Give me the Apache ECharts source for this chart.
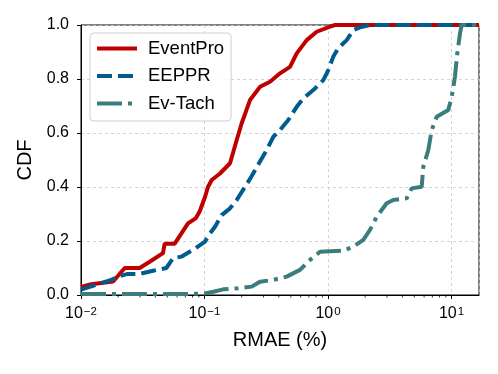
<!DOCTYPE html>
<html>
<head>
<meta charset="utf-8">
<script src="https://cdn.jsdelivr.net/npm/echarts@6/dist/echarts.min.js"></script>
<style>
    html, body { margin: 0; padding: 0; background: #fff; }
    #chart { width: 498px; height: 374px; }
</style>
</head>
<body>
<div id="chart"></div>
<script>
'use strict';

const xMin = 0.01;
const xMax = 16.7;
const yTicks = [0, 0.2, 0.4, 0.6, 0.8, 1.0];
const seriesNames = ['EventPro', 'EEPPR', 'Ev-Tach'];

const eventPro = [
    [0.01, 0.03], [0.0121, 0.04], [0.0182, 0.05], [0.0226, 0.10], [0.0299, 0.10],
    [0.036, 0.123], [0.0461, 0.155], [0.0476, 0.19], [0.0574, 0.19], [0.0735, 0.265],
    [0.0853, 0.285], [0.0915, 0.31], [0.1004, 0.36], [0.1067, 0.40], [0.1144, 0.426],
    [0.1335, 0.45], [0.1609, 0.488], [0.1823, 0.574], [0.2001, 0.636], [0.2336, 0.722],
    [0.2814, 0.771], [0.3393, 0.79], [0.4087, 0.821], [0.4925, 0.845], [0.558, 0.895],
    [0.6723, 0.944], [0.81, 0.975], [1.038, 0.994], [1.14, 1.0], [16.7, 1.0]
];

const eeppr = [
    [0.01, 0.02], [0.0176, 0.056], [0.0199, 0.068], [0.024, 0.078], [0.0299, 0.078],
    [0.0383, 0.09], [0.0491, 0.10], [0.0556, 0.136], [0.0649, 0.142], [0.0807, 0.167],
    [0.1004, 0.197], [0.1108, 0.228], [0.1216, 0.253], [0.1378, 0.296], [0.1609, 0.321],
    [0.1823, 0.352], [0.2336, 0.43], [0.2814, 0.494], [0.3189, 0.537], [0.3607, 0.586],
    [0.4087, 0.611], [0.477, 0.648], [0.558, 0.697], [0.631, 0.728], [0.7603, 0.759],
    [0.9163, 0.796], [1.0056, 0.833], [1.104, 0.883], [1.2117, 0.914], [1.417, 0.944],
    [1.602, 0.981], [1.816, 0.991], [2.188, 1.0], [16.7, 1.0]
];

const evTach = [
    [0.01, 0.004], [0.0763, 0.004], [0.1009, 0.006], [0.1179, 0.012], [0.142, 0.021],
    [0.1878, 0.025], [0.2411, 0.031], [0.2814, 0.049], [0.3607, 0.056], [0.4629, 0.068],
    [0.5932, 0.093], [0.7149, 0.13], [0.8616, 0.16], [1.33, 0.164], [1.602, 0.179],
    [1.931, 0.204], [2.188, 0.241], [2.48, 0.29], [2.988, 0.34], [3.38, 0.352],
    [4.337, 0.358], [4.76, 0.395], [5.737, 0.401], [5.911, 0.475], [6.49, 0.537],
    [6.914, 0.611], [7.59, 0.66], [9.42, 0.685], [10.04, 0.734], [10.67, 0.809],
    [11.14, 0.895], [11.72, 0.969], [12.09, 1.0], [16.7, 1.0]
];

const font = 'Liberation Sans';

// minor ticks of the log axis at 2..9 of each decade
const minorTicks = [];
[0.01, 0.1, 1, 10].forEach(function (d) {
    for (let k = 2; k <= 9; k++) {
        if (k * d < xMax) minorTicks.push([k * d, 0]);
    }
});

function supLabel(v) {
    const e = Math.round(Math.log10(v));
    return '{b|10}{s|' + (e < 0 ? '\u2212' + (-e) : e) + '}';
}

const chart = echarts.init(document.getElementById('chart'), null, {renderer: 'canvas'});

chart.setOption({
    animation: false,
    backgroundColor: '#fff',
    textStyle: {fontFamily: font},
    grid: {
        left: 81, right: 19, top: 25, bottom: 79,
        show: true, borderColor: '#000', borderWidth: 1
    },
    legend: {
        data: seriesNames,
        orient: 'vertical',
        left: 90, top: 33,
        itemWidth: 40, itemHeight: 17, itemGap: 8.5,
        padding: [6, 7, 8, 5],
        borderColor: '#cfcfcf', borderWidth: 1, borderRadius: 4,
        backgroundColor: 'rgba(255,255,255,0.8)',
        itemStyle: {opacity: 0},
        lineStyle: {width: 4},
        textStyle: {fontFamily: font, fontSize: 18.5, color: '#000', padding: [0, 0, 0, 6]}
    },
    xAxis: {
        type: 'log',
        logBase: 10,
        min: xMin,
        max: xMax,
        name: 'RMAE (%)',
        nameLocation: 'middle',
        nameGap: 35,
        nameTextStyle: {fontFamily: font, fontSize: 20, color: '#000'},
        axisLine: {lineStyle: {color: '#000', width: 1}},
        axisTick: {length: 4, lineStyle: {color: '#000', width: 1}},
        axisLabel: {
            margin: 11,
            showMaxLabel: false,
            formatter: supLabel,
            rich: {
                b: {fontFamily: font, fontSize: 16, color: '#000', verticalAlign: 'bottom'},
                s: {fontFamily: font, fontSize: 11.5, color: '#000', verticalAlign: 'top', padding: [0, 0, 0, 1]}
            }
        },
        splitLine: {show: true, lineStyle: {color: '#c8c8c8', width: 0.8, type: [3, 3]}}
    },
    yAxis: {
        type: 'value',
        min: yTicks[0],
        max: yTicks[yTicks.length - 1],
        interval: 0.2,
        name: 'CDF',
        nameLocation: 'middle',
        nameGap: 45,
        nameTextStyle: {fontFamily: font, fontSize: 20, color: '#000'},
        axisLine: {show: true, lineStyle: {color: '#000', width: 1}},
        axisTick: {show: true, length: 4, lineStyle: {color: '#000', width: 1}},
        axisLabel: {
            margin: 12,
            fontFamily: font, fontSize: 16, color: '#000',
            formatter: function (v) { return v.toFixed(1); }
        },
        splitLine: {show: true, lineStyle: {color: '#c8c8c8', width: 0.8, type: [3, 3]}}
    },
    series: [
        {
            name: seriesNames[0], type: 'line', data: eventPro,
            showSymbol: false, symbol: 'none', color: '#c00000',
            lineStyle: {width: 4, color: '#c00000', type: 'solid'}
        },
        {
            name: seriesNames[1], type: 'line', data: eeppr,
            showSymbol: false, symbol: 'none', color: '#005b8e',
            lineStyle: {width: 4, color: '#005b8e', type: [15, 6]}
        },
        {
            name: seriesNames[2], type: 'line', data: evTach,
            showSymbol: false, symbol: 'none', color: '#3b7d7d',
            lineStyle: {width: 4, color: '#3b7d7d', type: [25, 6, 4, 6]}
        },
        {
            type: 'custom', data: minorTicks, silent: true, clip: false,
            renderItem: function (params, api) {
                const p = api.coord([api.value(0), 0]);
                return {
                    type: 'line',
                    shape: {x1: p[0], y1: p[1], x2: p[0], y2: p[1] + 2.5},
                    style: {stroke: '#000', lineWidth: 0.8}
                };
            }
        }
    ]
});
</script>
</body>
</html>
